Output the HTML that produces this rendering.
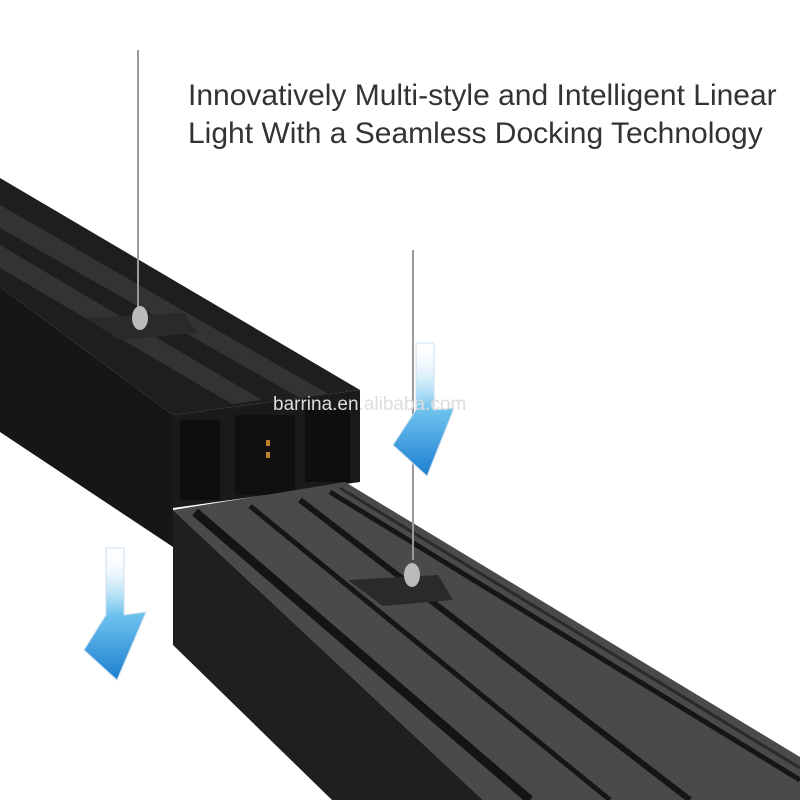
<!DOCTYPE html>
<html><head><meta charset="utf-8"><style>
body{margin:0;background:#fff;width:800px;height:800px;overflow:hidden;position:relative;font-family:"Liberation Sans",sans-serif}
.t{position:absolute;left:188px;font-size:30px;color:#333;white-space:nowrap}
</style></head><body>
<svg width="800" height="800" style="position:absolute;left:0;top:0">
<defs>
<linearGradient id="ag" x1="0" y1="0" x2="0" y2="1">
<stop offset="0" stop-color="#fff" stop-opacity="0"/><stop offset="0.5" stop-color="#6fc3ee"/><stop offset="1" stop-color="#1b7fd0"/></linearGradient>
</defs>
<!-- upper bar -->
<polygon points="0,178 360,390 173,415 0,287" fill="#1e1e1e"/>
<polygon points="0,205 330,395 300,398 0,228" fill="#333"/>
<polygon points="0,245 262,400 232,404 0,268" fill="#333"/>
<polygon points="0,287 173,415 173,547 0,432" fill="#161616"/>
<polygon points="173,415 360,390 360,482 173,508" fill="#1a1a1a"/>
<rect x="180" y="420" width="40" height="80" fill="#0e0e0e"/>
<rect x="235" y="415" width="60" height="80" fill="#101010"/>
<rect x="305" y="410" width="45" height="72" fill="#0e0e0e"/>
<rect x="266" y="440" width="4" height="6" fill="#c08030"/>
<rect x="266" y="452" width="4" height="6" fill="#c08030"/>
<!-- lower bar -->
<polygon points="173,510 345,482 800,757 800,800 483,800" fill="#4a4a4a"/>
<line x1="195" y1="512" x2="530" y2="800" stroke="#141414" stroke-width="9"/>
<line x1="250" y1="506" x2="610" y2="800" stroke="#151515" stroke-width="5"/>
<line x1="300" y1="500" x2="690" y2="800" stroke="#151515" stroke-width="6"/>
<line x1="330" y1="492" x2="800" y2="780" stroke="#151515" stroke-width="5"/>
<line x1="340" y1="488" x2="800" y2="768" stroke="#2a2a2a" stroke-width="3"/>
<polygon points="173,510 483,800 332,800 173,645" fill="#1d1f20"/>
<!-- rods -->
<line x1="138" y1="50" x2="138" y2="310" stroke="#999" stroke-width="2"/>
<polygon points="85,318 185,313 197,333 120,340" fill="#2a2a2a"/>
<ellipse cx="140" cy="318" rx="8" ry="12" fill="#bbb"/>
<line x1="413" y1="250" x2="413" y2="560" stroke="#999" stroke-width="2"/>
<polygon points="348,580 438,575 453,600 383,606" fill="#2a2a2a"/>
<ellipse cx="412" cy="575" rx="8" ry="12" fill="#bbb"/>
<!-- arrows -->
<polygon points="106,548 124,548 124,615 146,612 117,680 84,650 106,615" fill="url(#ag)" stroke="#cde" stroke-width="1"/>
<polygon points="416,343 434,343 434,410 454,408 427,476 393,445 416,410" fill="url(#ag)" stroke="#cde" stroke-width="1"/>
<text x="273" y="410" font-size="19" fill="#ddd" font-family="Liberation Sans">barrina.en.alibaba.com</text>
</svg>
<div class="t" style="top:79px">Innovatively Multi-style and Intelligent Linear</div>
<div class="t" style="top:117px">Light With a Seamless Docking Technology</div>
</body></html>
